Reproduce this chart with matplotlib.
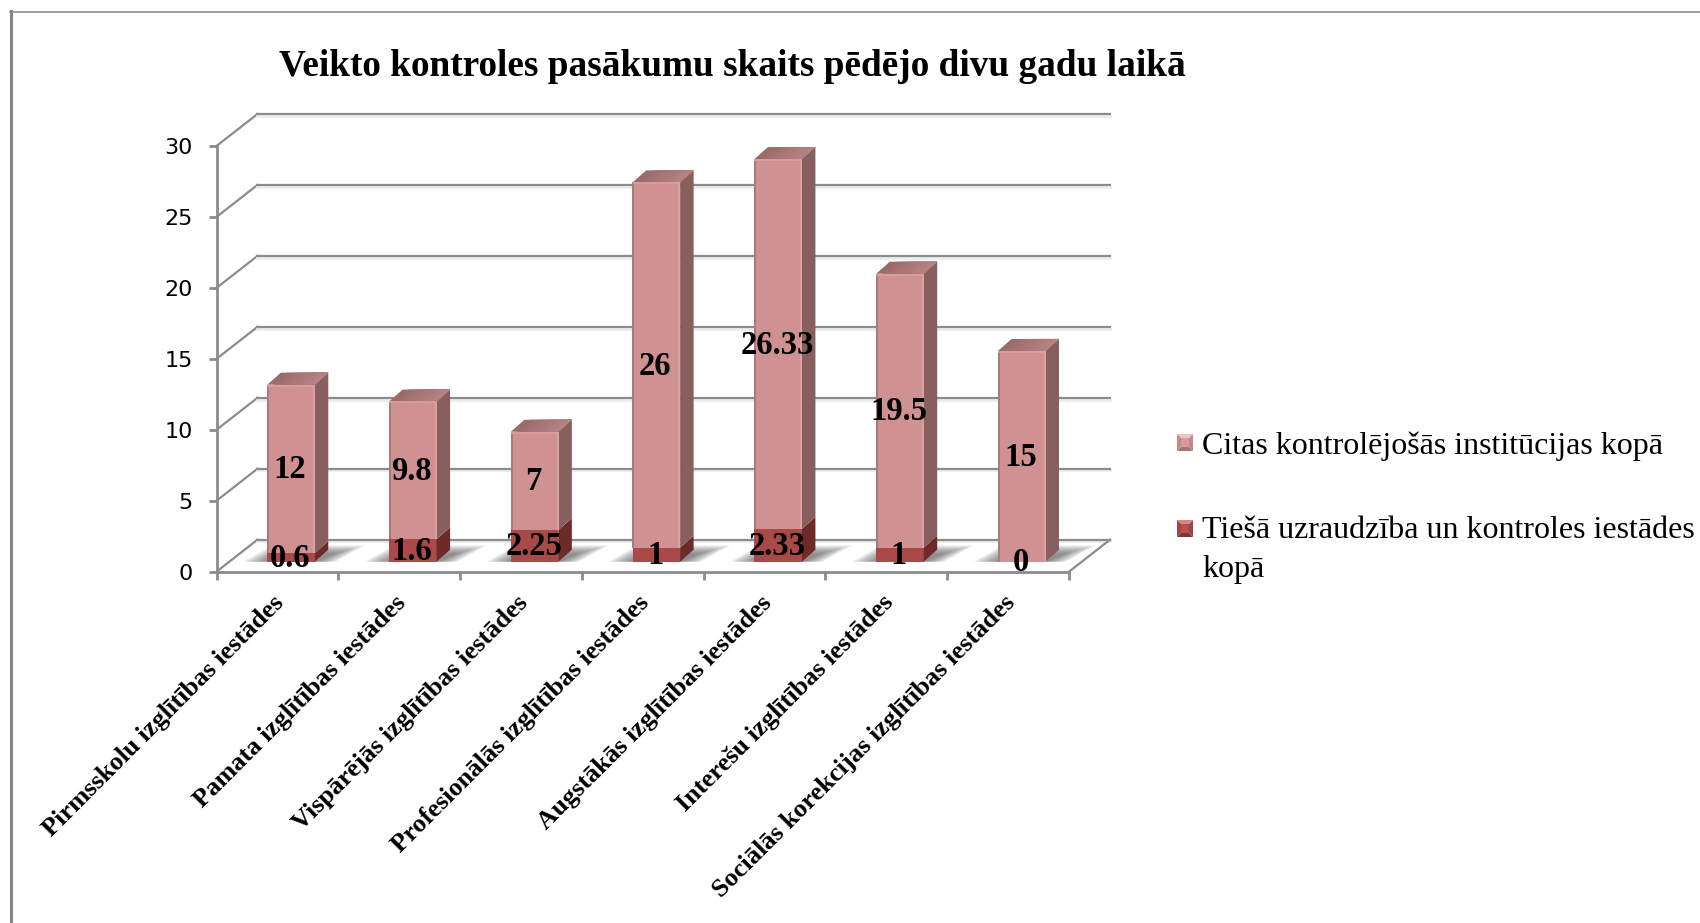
import numpy as np
import matplotlib
matplotlib.use('Agg')
import matplotlib.pyplot as plt
from matplotlib.colors import to_rgb
from matplotlib.lines import Line2D
from matplotlib.patches import Polygon

categories = ['Pirmsskolu izglītības iestādes', 'Pamata izglītības iestādes',
              'Vispārējās izglītības iestādes', 'Profesionālās izglītības iestādes',
              'Augstākās izglītības iestādes', 'Interešu izglītības iestādes',
              'Sociālās korekcijas izglītības iestādes']
direct_vals = [0.6, 1.6, 2.25, 1, 2.33, 1, 0]
other_vals = [12, 9.8, 7, 26, 26.33, 19.5, 15]
direct_labels = ['0.6', '1.6', '2.25', '1', '2.33', '1', '0']
other_labels = ['12', '9.8', '7', '26', '26.33', '19.5', '15']
y_ticks = [0, 5, 10, 15, 20, 25, 30]

title = 'Veikto kontroles pasākumu skaits pēdējo divu gadu laikā'
legend_other = 'Citas kontrolējošās institūcijas kopā'
legend_direct = 'Tiešā uzraudzība un kontroles iestādes\nkopā'

W, H = 1700, 923
serif = 'Liberation Serif'
grid_col = '#8c8c8c'

# wall depth and bar depth, in data units
wall_dx = 41 / 121.8
wall_dy = 32 / 14.19
bar_dx = 13.5 / 121.8
bar_dy = 12 / 14.19
bar_w = 0.39
bar_x0 = 0.417
bar_y0 = 0.705
bar_scale = 0.99


def fx(px):
    return px / W


def fy(py):
    return 1 - py / H


fig = plt.figure(figsize=(17, 9.23), dpi=100)
ax = fig.add_axes([fx(216.5), fy(571.7), (1069 - 216.5) / W, (571.7 - 146) / H])
ax.set_xlim(0, 7)
ax.set_ylim(0, 30)
ax.patch.set_visible(False)

for s in ['top', 'right']:
    ax.spines[s].set_visible(False)
for s in ['left', 'bottom']:
    ax.spines[s].set_color(grid_col)
    ax.spines[s].set_linewidth(2)

ax.set_yticks(y_ticks)
ax.tick_params(axis='y', length=6, width=2, color=grid_col, labelsize=16, pad=11, labelcolor='black')
ax.set_xticks(range(8))
ax.set_xticklabels([])
ax.tick_params(axis='x', which='major', length=6, width=2, color=grid_col)
ax.set_xticks(np.arange(7) + 0.46, categories, minor=True)
ax.tick_params(axis='x', which='minor', length=0, pad=14)
for lab in ax.get_xticklabels(minor=True):
    lab.set(rotation=45, ha='right', va='top', rotation_mode='anchor',
            family=serif, weight='bold', fontsize=19)

# walls
for v in y_ticks:
    ax.plot([0, wall_dx], [v, v + wall_dy], color=grid_col, lw=1.6, clip_on=False, zorder=1)
    ax.plot([wall_dx, 7 + wall_dx], [v + wall_dy - 0.12] * 2, color='#ececec', lw=2, clip_on=False, zorder=1)
    ax.plot([wall_dx, 7 + wall_dx], [v + wall_dy] * 2, color=grid_col, lw=1.6, clip_on=False, zorder=1.1)
ax.plot([7, 7 + wall_dx], [0, wall_dy], color=grid_col, lw=1.6, clip_on=False, zorder=1)


def face(pts, col, z):
    ax.add_patch(Polygon(pts, closed=True, facecolor=col, edgecolor='none', clip_on=False, zorder=z))


def draw_segment(i, bottom, height, front, side):
    x = i + bar_x0
    b = bar_y0 + bottom * bar_scale
    t = bar_y0 + (bottom + height) * bar_scale
    ax.bar(x, t - b, bar_w, bottom=b, align='edge', color=front, linewidth=0, clip_on=False, zorder=3 + i)
    face([(x + bar_w, b), (x + bar_w + bar_dx, b + bar_dy),
          (x + bar_w + bar_dx, t + bar_dy), (x + bar_w, t)], side, 3 + i)


top_left = np.array(to_rgb('#9a6b6b'))
top_right = np.array(to_rgb('#b98585'))
shadow_depth = 1.15

for i in range(len(categories)):
    x = i + bar_x0
    # soft floor shadow, built from stacked see-through shapes
    for s in np.linspace(1, 0.1, 10):
        left = x - 0.2 * s
        right = x + bar_w + bar_dx + 0.27 * s
        face([(left, bar_y0), (right - bar_dx - 0.1 * s, bar_y0),
              (right + 0.03, bar_y0 + shadow_depth * (0.45 + 0.55 * s)),
              (left + bar_dx + 0.13 * s, bar_y0 + shadow_depth * (0.45 + 0.55 * s))],
             (0.3, 0.3, 0.3, 0.09), 2)

    if direct_vals[i] > 0:
        draw_segment(i, 0, direct_vals[i], '#a94a48', '#6c2b29')
    draw_segment(i, direct_vals[i], other_vals[i], '#d09192', '#875f5e')

    # top of the bar as overlapping strips going lighter to the right
    top = bar_y0 + (direct_vals[i] + other_vals[i]) * bar_scale
    n_strips = 8
    for k in range(n_strips):
        a = k / n_strips
        col = top_left + (top_right - top_left) * a
        face([(x + bar_w * a, top), (x + bar_w, top),
              (x + bar_w + bar_dx, top + bar_dy), (x + bar_w * a + bar_dx, top + bar_dy)],
             tuple(col), 3 + i)
    base = bar_y0 + direct_vals[i] * bar_scale
    # lit rims of the front face
    ax.vlines(x + 0.006, base, top, color='#a97b7b', lw=1.5, clip_on=False, zorder=3 + i)
    ax.vlines(x + bar_w - 0.006, base, top, color='#dba0a0', lw=1.5, clip_on=False, zorder=3 + i)
    ax.hlines(top - 0.06, x, x + bar_w, color='#dba0a0', lw=1.2, clip_on=False, zorder=3 + i)

    # value labels sit on the middle of each segment
    cx = x + bar_w / 2 - 0.008
    ax.text(cx, bar_y0 + (direct_vals[i] + other_vals[i] / 2) * bar_scale - 0.07, other_labels[i],
            ha='center', va='center', family=serif, weight='bold', fontsize=23.5, zorder=20, clip_on=False)
    ax.text(cx, bar_y0 + direct_vals[i] / 2 * bar_scale - 0.07, direct_labels[i],
            ha='center', va='center', family=serif, weight='bold', fontsize=23.5, zorder=20, clip_on=False)

fig.text(fx(732), fy(66), title, ha='center', va='center', family=serif, weight='bold', fontsize=26.8)


# legend, placed by hand because of the wrapped second entry
def bevel_marker(px, py, mid, light, dark, sides):
    size_x, size_y = 16, 17
    inset = 4
    c = [(px, py), (px + size_x, py), (px + size_x, py + size_y), (px, py + size_y)]
    i = [(px + inset, py + inset), (px + size_x - inset, py + inset),
         (px + size_x - inset, py + size_y - inset), (px + inset, py + size_y - inset)]
    parts = [([c[0], c[1], i[1], i[0]], light), ([c[1], c[2], i[2], i[1]], sides),
             ([c[2], c[3], i[3], i[2]], dark), ([c[3], c[0], i[0], i[3]], sides), (i, mid)]
    for pts, col in parts:
        pts = [(fx(a), fy(b)) for a, b in pts]
        fig.add_artist(Polygon(pts, closed=True, transform=fig.transFigure, facecolor=col, edgecolor='none'))


bevel_marker(1177, 434, '#d89a9a', '#f0c4c4', '#a87474', '#c08a8a')
bevel_marker(1177, 520, '#b5504e', '#d58583', '#7e3534', '#9c4644')
fig.text(fx(1202), fy(446), legend_other, ha='left', va='center', family=serif, fontsize=23)
fig.text(fx(1202), fy(531), legend_direct.split('\n')[0], ha='left', va='center', family=serif, fontsize=23)
fig.text(fx(1202), fy(569), legend_direct.split('\n')[1], ha='left', va='center', family=serif, fontsize=23)

# outer chart frame
fig.add_artist(Line2D([fx(11), fx(11)], [fy(11), 0], color='#858585', lw=2.2))
fig.add_artist(Line2D([fx(10), 1], [fy(11.5), fy(11.5)], color='#858585', lw=1.1))

fig.savefig('out.png', dpi=100)
